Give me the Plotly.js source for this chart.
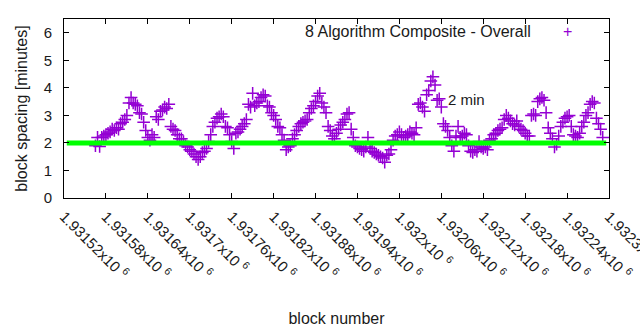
<!DOCTYPE html>
<html>
<head>
<meta charset="utf-8">
<script src="https://cdn.plot.ly/plotly-3.0.1.min.js"></script>
<style>html,body{margin:0;padding:0;background:#fff;}#chart{width:640px;height:330px;}</style>
</head>
<body>
<div id="chart"></div>
<script>
// block numbers (x) and block spacing in minutes (y)
const blocks = [
1931565,1931568,1931571,1931574,1931577,1931580,1931583,1931586,1931589,1931592,
1931595,1931598,1931601,1931604,1931607,1931610,1931613,1931616,1931619,1931622,
1931625,1931628,1931631,1931634,1931637,1931640,1931643,1931646,1931649,1931652,
1931655,1931658,1931661,1931664,1931667,1931670,1931673,1931676,1931679,1931682,
1931685,1931688,1931691,1931694,1931697,1931700,1931703,1931706,1931709,1931712,
1931715,1931718,1931721,1931724,1931727,1931730,1931733,1931736,1931739,1931742,
1931745,1931748,1931751,1931754,1931757,1931760,1931763,1931766,1931769,1931772,
1931775,1931778,1931781,1931784,1931787,1931790,1931793,1931796,1931799,1931802,
1931805,1931808,1931811,1931814,1931817,1931820,1931823,1931826,1931829,1931832,
1931835,1931838,1931841,1931844,1931847,1931850,1931853,1931856,1931859,1931862,
1931865,1931868,1931871,1931874,1931877,1931880,1931883,1931886,1931889,1931892,
1931895,1931898,1931901,1931904,1931907,1931910,1931913,1931916,1931919,1931922,
1931925,1931928,1931931,1931934,1931937,1931940,1931943,1931946,1931949,1931952,
1931955,1931958,1931961,1931964,1931967,1931970,1931973,1931976,1931979,1931982,
1931985,1931988,1931991,1931994,1931997,1932000,1932003,1932006,1932009,1932012,
1932015,1932018,1932021,1932024,1932027,1932030,1932033,1932036,1932039,1932042,
1932045,1932048,1932051,1932054,1932057,1932060,1932063,1932066,1932069,1932072,
1932075,1932078,1932081,1932084,1932087,1932090,1932093,1932096,1932099,1932102,
1932105,1932108,1932111,1932114,1932117,1932120,1932123,1932126,1932129,1932132,
1932135,1932138,1932141,1932144,1932147,1932150,1932153,1932156,1932159,1932162,
1932165,1932168,1932171,1932174,1932177,1932180,1932183,1932186,1932189,1932192,
1932195,1932198,1932201,1932204,1932207,1932210,1932213,1932216,1932219,1932222,
1932225,1932228,1932231,1932234,1932237,1932240,1932243,1932246,1932249,1932252,
1932255,1932258,1932261,1932264,1932267,1932270,1932273,1932276,1932279,1932282,
1932285,1932288,1932291
];
const spacing = [
1.90,2.20,1.87,2.20,2.25,2.30,2.35,2.40,2.50,2.45,
2.55,2.50,2.70,2.75,2.85,3.00,3.45,3.65,3.45,3.40,
3.35,3.10,3.05,2.75,2.45,2.20,2.10,2.30,2.20,2.95,
2.85,3.15,3.20,3.30,3.25,3.40,2.60,2.50,2.45,2.30,
2.15,2.15,2.05,1.90,1.85,1.75,1.70,1.60,1.50,1.40,
1.50,1.65,1.70,1.80,2.05,2.30,2.60,2.75,2.90,2.95,
3.05,2.95,2.60,2.55,2.30,2.05,1.80,2.35,2.40,2.50,
2.60,2.70,2.85,3.40,3.30,3.80,3.35,3.45,3.50,3.65,
3.75,3.70,3.35,3.30,3.10,3.00,2.85,2.60,2.55,2.30,
2.10,1.75,1.85,1.90,2.15,2.30,2.45,2.60,2.70,2.75,
2.80,2.85,3.10,3.25,3.35,3.50,3.70,3.80,3.45,3.30,
3.10,2.60,2.45,2.25,2.15,2.35,2.50,2.65,2.75,2.85,
3.05,3.10,2.50,2.20,1.90,1.85,1.80,1.75,1.70,1.85,
2.20,1.80,1.70,1.65,1.60,1.55,1.50,1.45,1.30,1.55,
1.60,1.75,2.10,2.25,2.30,2.40,2.30,2.20,2.25,2.30,
2.40,2.35,2.30,2.55,3.40,3.45,3.30,3.15,3.75,3.90,
4.25,4.40,4.10,3.55,3.60,3.30,2.70,2.60,2.45,2.20,
1.90,1.70,2.25,2.60,2.20,2.25,2.35,2.30,1.90,1.70,
1.65,1.75,1.70,2.05,1.85,1.80,1.85,1.75,2.10,2.15,
2.30,2.35,2.45,2.50,2.55,2.85,3.00,2.90,2.80,2.70,
2.65,2.80,2.60,2.50,2.45,2.35,2.25,2.25,3.00,3.05,
3.00,3.50,3.60,3.65,3.55,3.10,2.55,2.35,2.15,1.85,
1.95,2.25,2.60,2.75,2.90,2.95,3.00,2.60,2.30,2.25,
2.20,2.35,2.60,2.75,3.00,3.10,3.40,3.50,3.45,2.90,
2.70,2.50,2.20
];
// 2-minute target line
const targetX = [1931524, 1932296];
const targetY = [2, 2];
// x tick positions and labels
const tickVals = [1931520,1931580,1931640,1931700,1931760,1931820,1931880,1931940,1932000,1932060,1932120,1932180,1932240,1932300];
const tickMant = ['1.93152','1.93158','1.93164','1.9317','1.93176','1.93182','1.93188','1.93194','1.932','1.93206','1.93212','1.93218','1.93224','1.9323'];
const tickText = tickMant.map(m => m + 'x10 <sup>6</sup>');

const purple = '#9400d3';
const family = 'Liberation Sans, Arial, sans-serif';
const font = {family: family, size: 16, color: '#1a1a1a'};
const tfont = {family: family, size: 15, color: '#1a1a1a'};

const traces = [
  {
    x: blocks, y: spacing, type: 'scatter', mode: 'markers',
    name: '8 Algorithm Composite - Overall',
    marker: {symbol: 'cross-thin-open', size: 9, color: purple, line: {color: purple, width: 1.5}},
    hoverinfo: 'x+y'
  },
  {
    x: targetX, y: targetY, type: 'scatter', mode: 'lines',
    name: '2 min',
    line: {color: '#00ff00', width: 5}
  }
];

const layout = {
  width: 640, height: 330,
  margin: {l: 64, r: 31, t: 19, b: 132, pad: 0},
  paper_bgcolor: '#fff', plot_bgcolor: '#fff',
  showlegend: false,
  font: font,
  xaxis: {
    range: [1931520, 1932300],
    tickmode: 'array', tickvals: tickVals, ticktext: tickText,
    tickangle: 45,
    ticks: 'inside', ticklen: 5, tickcolor: '#000',
    showline: true, linecolor: '#000', linewidth: 1, mirror: 'ticks',
    showgrid: false, zeroline: false,
    ticklabelstandoff: 3,
    ticklabeloverflow: 'allow',
    tickfont: tfont,
    title: {text: 'block number', font: font, standoff: 31},
    automargin: false
  },
  yaxis: {
    range: [0, 6.5],
    tickmode: 'array', tickvals: [0,1,2,3,4,5,6],
    ticks: 'inside', ticklen: 5, tickcolor: '#000',
    showline: true, linecolor: '#000', linewidth: 1, mirror: 'ticks',
    showgrid: false, zeroline: false,
    ticklabelstandoff: 8,
    tickfont: tfont,
    title: {text: 'block spacing [minutes]', font: font, standoff: 12},
    automargin: false
  },
  annotations: [
    {xref: 'paper', yref: 'paper', x: (533-64)/545, y: (198-32)/179, xanchor: 'right', yanchor: 'middle',
     text: '8 Algorithm Composite - Overall', showarrow: false, font: font},
    {xref: 'paper', yref: 'paper', x: (567-64)/545, y: (198-32)/179, xanchor: 'center', yanchor: 'middle',
     text: '+', showarrow: false, font: {family: family, size: 16, color: purple}},
    {xref: 'x', yref: 'y', x: 1932066, y: 3.56, xanchor: 'left', yanchor: 'middle',
     text: '2 min', showarrow: false, font: tfont}
  ]
};

Plotly.newPlot('chart', traces, layout, {staticPlot: true, displayModeBar: false});
</script>
</body>
</html>
